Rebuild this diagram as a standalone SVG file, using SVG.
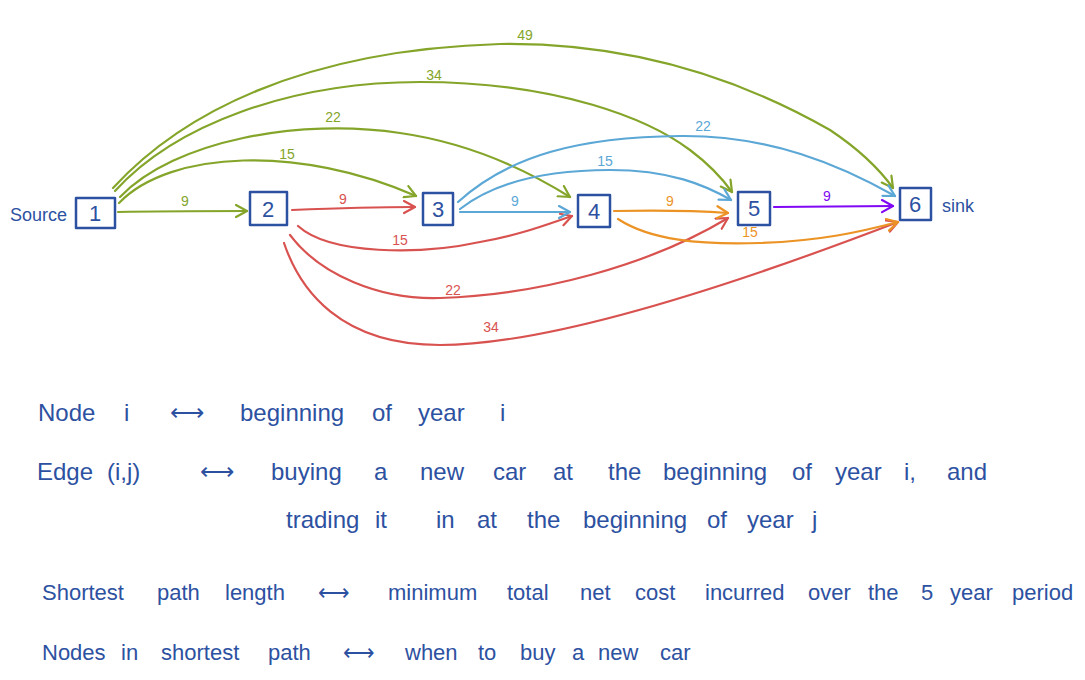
<svg xmlns="http://www.w3.org/2000/svg" width="1085" height="680" viewBox="0 0 1085 680">
<style>
.e{fill:none;stroke-width:2.2;stroke-linecap:round;stroke-linejoin:round}
.g{stroke:#84a52a}.r{stroke:#d85250}.b{stroke:#5ba7d6}.o{stroke:#ec9325}.p{stroke:#8008f5}
.lg{fill:#84a52a}.lr{fill:#d85250}.lb{fill:#5ba7d6}.lo{fill:#ec9325}.lp{fill:#8008f5}
.el{font-family:"Liberation Sans",sans-serif;font-size:14px;text-anchor:middle}
.box{fill:none;stroke:#2d51a1;stroke-width:2.5;stroke-linejoin:round}
.nl{font-family:"Liberation Sans",sans-serif;font-size:22px;fill:#2d51a1;text-anchor:middle}
.tx{font-family:"Liberation Sans",sans-serif;font-size:24px;fill:#2d51a1}
.tn{font-size:22px}
</style>
<defs>
<marker id="mg" markerUnits="userSpaceOnUse" markerWidth="16" markerHeight="16" refX="12" refY="7" orient="auto"><path d="M1,1 L12,7 L1,13" fill="none" stroke="#84a52a" stroke-width="2.2" stroke-linecap="round" stroke-linejoin="round"/></marker>
<marker id="mr" markerUnits="userSpaceOnUse" markerWidth="16" markerHeight="16" refX="12" refY="7" orient="auto"><path d="M1,1 L12,7 L1,13" fill="none" stroke="#d85250" stroke-width="2.2" stroke-linecap="round" stroke-linejoin="round"/></marker>
<marker id="mb" markerUnits="userSpaceOnUse" markerWidth="16" markerHeight="16" refX="12" refY="7" orient="auto"><path d="M1,1 L12,7 L1,13" fill="none" stroke="#5ba7d6" stroke-width="2.2" stroke-linecap="round" stroke-linejoin="round"/></marker>
<marker id="mo" markerUnits="userSpaceOnUse" markerWidth="16" markerHeight="16" refX="12" refY="7" orient="auto"><path d="M1,1 L12,7 L1,13" fill="none" stroke="#ec9325" stroke-width="2.2" stroke-linecap="round" stroke-linejoin="round"/></marker>
<marker id="mp" markerUnits="userSpaceOnUse" markerWidth="16" markerHeight="16" refX="12" refY="7" orient="auto"><path d="M1,1 L12,7 L1,13" fill="none" stroke="#8008f5" stroke-width="2.2" stroke-linecap="round" stroke-linejoin="round"/></marker>
</defs>
<rect width="1085" height="680" fill="#ffffff"/>
<g id="connectors">
<path class="e g" marker-end="url(#mg)" d="M118,212 C160,211 200,211 247,211"/>
<path class="e g" marker-end="url(#mg)" d="M119,203 C170,150 300,145 416,196"/>
<path class="e g" marker-end="url(#mg)" d="M120,197 C175,140 300,118 400,133 C470,143 530,172 570,197"/>
<path class="e g" marker-end="url(#mg)" d="M115,191 C175,125 290,82 420,82 C560,82 650,120 690,150 C710,165 722,178 732,192"/>
<path class="e g" marker-end="url(#mg)" d="M113,188 C180,115 300,50 500,44 C650,42 760,90 830,130 C860,150 880,170 893,188"/>
<path class="e r" marker-end="url(#mr)" d="M292,210 C340,208 380,207 415,207"/>
<path class="e r" marker-end="url(#mr)" d="M298,226 C330,255 420,255 480,242 C520,235 545,225 572,216"/>
<path class="e r" marker-end="url(#mr)" d="M290,235 C320,275 380,300 440,298 C540,295 650,265 728,218"/>
<path class="e r" marker-end="url(#mr)" d="M284,243 C300,290 340,345 440,345 C560,345 760,275 898,222"/>
<path class="e b" marker-end="url(#mb)" d="M460,212 L570,212"/>
<path class="e b" marker-end="url(#mb)" d="M460,209 C500,178 560,170 610,170 C670,170 705,185 731,200"/>
<path class="e b" marker-end="url(#mb)" d="M458,202 C510,155 580,137 680,136 C770,135 840,165 895,196"/>
<path class="e o" marker-end="url(#mo)" d="M614,211 C660,210 700,211 728,213"/>
<path class="e o" marker-end="url(#mo)" d="M618,219 C650,240 700,245 760,243 C820,241 860,232 898,222"/>
<path class="e p" marker-end="url(#mp)" d="M774,207 L893,206"/>
<text class="el lg" x="185" y="206">9</text>
<text class="el lg" x="287" y="159">15</text>
<text class="el lg" x="333" y="122">22</text>
<text class="el lg" x="434" y="80">34</text>
<text class="el lg" x="525" y="40">49</text>
<text class="el lr" x="343" y="204">9</text>
<text class="el lr" x="400" y="245">15</text>
<text class="el lr" x="453" y="295">22</text>
<text class="el lr" x="491" y="332">34</text>
<text class="el lb" x="515" y="206">9</text>
<text class="el lb" x="605" y="166">15</text>
<text class="el lb" x="703" y="131">22</text>
<text class="el lo" x="670" y="206">9</text>
<text class="el lo" x="750" y="237">15</text>
<text class="el lp" x="827" y="201">9</text>
</g>
<g id="node1"><rect class="box" x="76" y="198" width="39" height="30"/><text class="nl" x="95" y="221">1</text></g>
<g id="node2"><rect class="box" x="250" y="192" width="37" height="33"/><text class="nl" x="268" y="217">2</text></g>
<g id="node3"><rect class="box" x="423" y="193" width="30" height="32"/><text class="nl" x="438" y="217">3</text></g>
<g id="node4"><rect class="box" x="578" y="195" width="32" height="32"/><text class="nl" x="594" y="219">4</text></g>
<g id="node5"><rect class="box" x="738" y="192" width="32" height="33"/><text class="nl" x="754" y="216">5</text></g>
<g id="node6"><rect class="box" x="900" y="188" width="31" height="32"/><text class="nl" x="915" y="212">6</text></g>
<text class="tx" x="10" y="221" style="font-size:18px">Source</text>
<text class="tx" x="942" y="212" style="font-size:18px">sink</text>
<text class="tx" y="421"><tspan x="38">Node</tspan><tspan x="124">i</tspan><tspan x="170">⟷</tspan><tspan x="240">beginning</tspan><tspan x="372">of</tspan><tspan x="418">year</tspan><tspan x="500">i</tspan></text>
<text class="tx" y="480"><tspan x="37">Edge</tspan><tspan x="107">(i,j)</tspan><tspan x="200">⟷</tspan><tspan x="271">buying</tspan><tspan x="374">a</tspan><tspan x="420">new</tspan><tspan x="493">car</tspan><tspan x="553">at</tspan><tspan x="608">the</tspan><tspan x="663">beginning</tspan><tspan x="792">of</tspan><tspan x="835">year</tspan><tspan x="904">i,</tspan><tspan x="947">and</tspan></text>
<text class="tx" y="528"><tspan x="286">trading</tspan><tspan x="375">it</tspan><tspan x="436">in</tspan><tspan x="477">at</tspan><tspan x="527">the</tspan><tspan x="583">beginning</tspan><tspan x="707">of</tspan><tspan x="747">year</tspan><tspan x="812">j</tspan></text>
<text class="tx tn" y="600"><tspan x="42">Shortest</tspan><tspan x="157">path</tspan><tspan x="225">length</tspan><tspan x="318">⟷</tspan><tspan x="388">minimum</tspan><tspan x="507">total</tspan><tspan x="580">net</tspan><tspan x="635">cost</tspan><tspan x="705">incurred</tspan><tspan x="808">over</tspan><tspan x="868">the</tspan><tspan x="921">5</tspan><tspan x="950">year</tspan><tspan x="1012">period</tspan></text>
<text class="tx tn" y="660"><tspan x="42">Nodes</tspan><tspan x="121">in</tspan><tspan x="161">shortest</tspan><tspan x="268">path</tspan><tspan x="343">⟷</tspan><tspan x="405">when</tspan><tspan x="478">to</tspan><tspan x="520">buy</tspan><tspan x="572">a</tspan><tspan x="598">new</tspan><tspan x="660">car</tspan></text>
</svg>
